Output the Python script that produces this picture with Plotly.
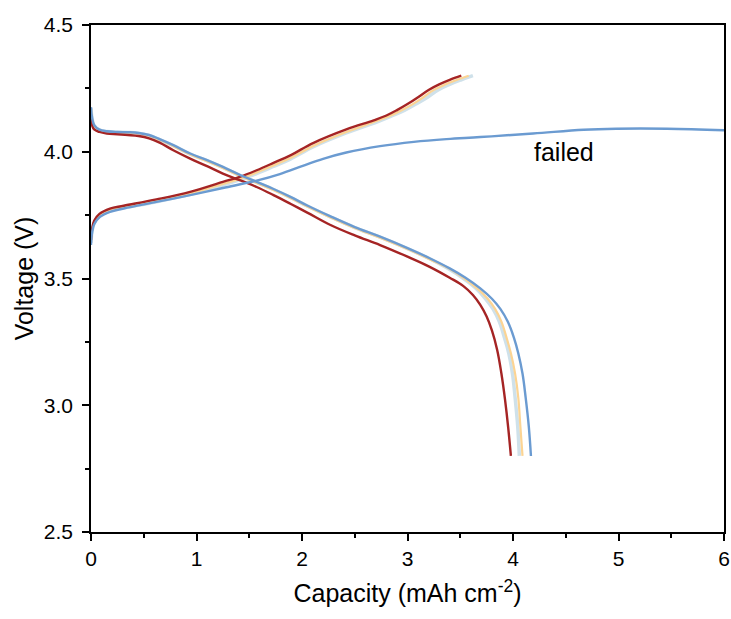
import plotly.graph_objects as go

# ---- data ----
# discharge curves
dis_blue_x = [0, 0.01, 0.03, 0.08, 0.15, 0.25, 0.35, 0.45, 0.55, 0.65, 0.78, 0.94, 1.10, 1.25, 1.42, 1.57, 1.73, 1.89, 2.05, 2.27, 2.50, 2.74, 3.00, 3.21,
              3.40, 3.55, 3.69, 3.80, 3.88, 3.95, 4.01, 4.05, 4.09, 4.12, 4.15, 4.17]
dis_blue_y = [4.176, 4.135, 4.105, 4.087, 4.081, 4.078, 4.077, 4.074, 4.066, 4.050, 4.026, 3.993, 3.967, 3.940, 3.907, 3.881, 3.853, 3.822, 3.788, 3.745, 3.703, 3.665, 3.620, 3.580,
              3.540, 3.503, 3.461, 3.420, 3.380, 3.330, 3.265, 3.205, 3.125, 3.030, 2.915, 2.80]

dis_orange_x = [0, 0.01, 0.03, 0.08, 0.15, 0.25, 0.35, 0.45, 0.55, 0.65, 0.78, 0.94, 1.10, 1.25, 1.42, 1.57, 1.73, 1.89, 2.05, 2.27, 2.50, 2.74, 3.00, 3.21,
                3.39, 3.53, 3.66, 3.76, 3.83, 3.89, 3.94, 3.98, 4.02, 4.05, 4.07, 4.09]
dis_orange_y = [4.168, 4.130, 4.102, 4.085, 4.079, 4.076, 4.075, 4.072, 4.063, 4.047, 4.022, 3.989, 3.963, 3.936, 3.903, 3.877, 3.849, 3.818, 3.784, 3.741, 3.699, 3.661, 3.616, 3.576,
                3.540, 3.503, 3.461, 3.420, 3.380, 3.330, 3.265, 3.205, 3.125, 3.030, 2.915, 2.80]

dis_lblue_x = [0, 0.01, 0.03, 0.08, 0.15, 0.25, 0.35, 0.45, 0.55, 0.65, 0.78, 0.94, 1.10, 1.25, 1.42, 1.57, 1.73, 1.89, 2.05, 2.27, 2.50, 2.74, 3.00, 3.21,
               3.38, 3.52, 3.65, 3.74, 3.81, 3.87, 3.92, 3.96, 3.995, 4.02, 4.045, 4.06]
dis_lblue_y = [4.172, 4.132, 4.103, 4.086, 4.080, 4.077, 4.076, 4.073, 4.064, 4.048, 4.024, 3.991, 3.965, 3.938, 3.905, 3.879, 3.851, 3.820, 3.786, 3.743, 3.701, 3.663, 3.618, 3.578,
               3.540, 3.503, 3.461, 3.420, 3.380, 3.330, 3.265, 3.205, 3.125, 3.030, 2.915, 2.80]

dis_red_x = [0, 0.01, 0.03, 0.08, 0.15, 0.25, 0.35, 0.45, 0.55, 0.65, 0.78, 0.94, 1.10, 1.25, 1.41, 1.57, 1.73, 1.89, 2.05, 2.27, 2.50, 2.74, 3.00, 3.21,
             3.40, 3.53, 3.62, 3.69, 3.75, 3.80, 3.85, 3.89, 3.925, 3.955, 3.98]
dis_red_y = [4.135, 4.104, 4.088, 4.078, 4.072, 4.069, 4.066, 4.062, 4.053, 4.036, 4.006, 3.973, 3.943, 3.914, 3.888, 3.861, 3.829, 3.795, 3.760, 3.711, 3.670, 3.632, 3.586, 3.546,
             3.503, 3.470, 3.435, 3.396, 3.350, 3.295, 3.218, 3.125, 3.020, 2.910, 2.80]

# charge curves
chg_red_x = [0, 0.01, 0.03, 0.08, 0.18, 0.31, 0.62, 0.94, 1.25, 1.41, 1.57, 1.73, 1.89, 2.11, 2.42, 2.68, 2.80, 2.90, 3.00, 3.10, 3.20, 3.30, 3.40, 3.51]
chg_red_y = [3.652, 3.695, 3.728, 3.755, 3.776, 3.787, 3.812, 3.842, 3.881, 3.901, 3.927, 3.956, 3.986, 4.035, 4.088, 4.124, 4.143, 4.164, 4.188, 4.215, 4.244, 4.266, 4.284, 4.300]

chg_orange_x = [0, 0.01, 0.03, 0.08, 0.18, 0.31, 0.62, 0.94, 1.25, 1.41, 1.57, 1.73, 1.89, 2.11, 2.42, 2.70, 2.83, 2.94, 3.05, 3.15, 3.25, 3.36, 3.47, 3.58]
chg_orange_y = [3.645, 3.690, 3.722, 3.750, 3.771, 3.782, 3.806, 3.835, 3.873, 3.893, 3.918, 3.946, 3.975, 4.024, 4.078, 4.120, 4.141, 4.163, 4.188, 4.215, 4.244, 4.266, 4.284, 4.300]

chg_lblue_x = [0, 0.01, 0.03, 0.08, 0.18, 0.31, 0.62, 0.94, 1.25, 1.41, 1.57, 1.73, 1.89, 2.11, 2.42, 2.72, 2.85, 2.97, 3.08, 3.19, 3.29, 3.40, 3.51, 3.62]
chg_lblue_y = [3.640, 3.686, 3.718, 3.747, 3.768, 3.779, 3.803, 3.832, 3.869, 3.889, 3.914, 3.942, 3.971, 4.020, 4.074, 4.119, 4.141, 4.163, 4.188, 4.215, 4.244, 4.266, 4.284, 4.300]

chg_blue_x = [0, 0.01, 0.03, 0.085, 0.18, 0.31, 0.62, 0.94, 1.25, 1.57, 1.79, 2.0, 2.2, 2.42, 2.74, 3.06, 3.37, 3.69, 4.19, 4.67, 4.98, 5.46, 6.0]
chg_blue_y = [3.632, 3.680, 3.714, 3.743, 3.763, 3.776, 3.802, 3.829, 3.857, 3.886, 3.912, 3.943, 3.972, 3.997, 4.022, 4.039, 4.050, 4.058, 4.072, 4.087, 4.091, 4.091, 4.085]

annot_text = "failed"
annot_x, annot_y = 4.48, 3.998

RED = "#a52424"
BLUE = "#6b9bd1"
ORANGE = "#fcd493"
LBLUE = "#cfe1ea"
FONT = "Liberation Sans, Arial"

fig = go.Figure()
for xs, ys, c, w in [
    (dis_lblue_x, dis_lblue_y, LBLUE, 3.5),
    (chg_lblue_x, chg_lblue_y, LBLUE, 3.5),
    (dis_orange_x, dis_orange_y, ORANGE, 2.2),
    (chg_orange_x, chg_orange_y, ORANGE, 2.2),
    (dis_red_x, dis_red_y, RED, 2.4),
    (chg_red_x, chg_red_y, RED, 2.4),
    (dis_blue_x, dis_blue_y, BLUE, 2.4),
    (chg_blue_x, chg_blue_y, BLUE, 2.4),
]:
    fig.add_trace(go.Scatter(x=xs, y=ys, mode="lines",
                             line=dict(color=c, width=w, shape="spline", smoothing=1.1),
                             showlegend=False, hoverinfo="skip"))

fig.add_annotation(x=annot_x, y=annot_y, text=annot_text, showarrow=False,
                   font=dict(family=FONT, size=25, color="black"))

axis_common = dict(
    showgrid=False, zeroline=False, showline=True, linecolor="black", linewidth=1.5,
    mirror=True, ticks="outside", ticklen=7, tickwidth=1.5, tickcolor="black",
    automargin=False,
    tickfont=dict(family=FONT, size=21, color="black"),
)

fig.update_layout(
    width=731, height=619,
    margin=dict(l=91, r=7, t=25, b=87),
    plot_bgcolor="white", paper_bgcolor="white",
    xaxis=dict(range=[0, 6], dtick=1, tick0=0,
               minor=dict(dtick=0.5, ticks="outside", ticklen=4, tickwidth=1.5, tickcolor="black"),
               title=dict(text="Capacity (mAh cm<sup>-2</sup>)", standoff=16,
                          font=dict(family=FONT, size=25, color="black")),
               **axis_common),
    yaxis=dict(range=[2.5, 4.5], dtick=0.5, tick0=2.5, tickformat=".1f",
               ticklabelstandoff=5,
               minor=dict(dtick=0.25, ticks="outside", ticklen=4, tickwidth=1.5, tickcolor="black"),
               title=dict(text="Voltage (V)", standoff=3,
                          font=dict(family=FONT, size=25, color="black")),
               **axis_common),
)

fig.write_html("out.html")
